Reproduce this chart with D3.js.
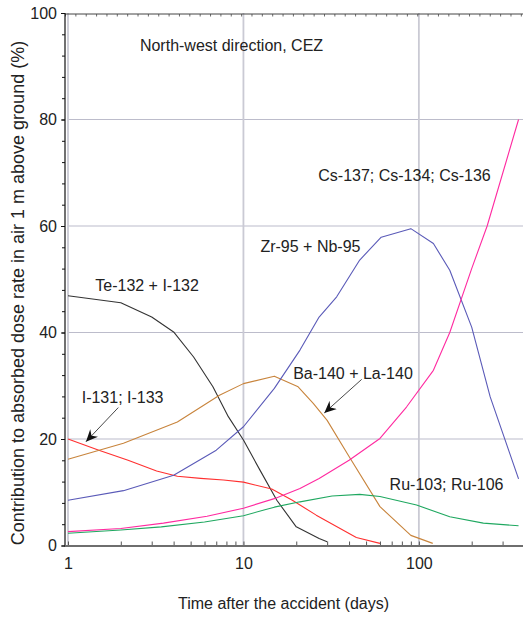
<!DOCTYPE html>
<html>
<head>
<meta charset="utf-8">
<script src="https://cdn.jsdelivr.net/npm/d3@7"></script>
<style>
  html, body { margin: 0; padding: 0; background: #fff; }
  svg { display: block; }
  text { font-family: "Liberation Sans", Arial, Helvetica, sans-serif; fill: #222; }
</style>
</head>
<body>
<svg id="chart" width="523" height="617"></svg>
<script>
// ---- data ----
const teDays = [1, 2, 3, 4, 5.2, 6.7, 8.2, 10, 12.4, 15.5, 20, 27, 30];
const teVals = [46.9, 45.6, 42.9, 40.1, 35.4, 29.8, 24.2, 19.8, 14.2, 8.5, 3.5, 1.3, 0.7];

const iDays = [1, 1.5, 2.2, 3.2, 4.2, 5.7, 7.7, 10, 14.5, 19, 26, 44, 60];
const iVals = [20.0, 17.9, 16.0, 14.0, 13.0, 12.6, 12.3, 11.9, 10.6, 8.5, 5.7, 1.5, 0.4];

const baDays = [1, 2.07, 4.2, 7.3, 10, 15, 20.5, 25, 30, 40, 60, 90, 120];
const baVals = [16.2, 19.2, 23.2, 28.2, 30.4, 31.8, 29.8, 26.7, 23.5, 16.7, 7.3, 1.9, 0.4];

const zrDays = [1, 2.07, 4, 7, 10, 15, 21, 27, 34, 46, 61, 90, 121, 150, 200, 255, 370];
const zrVals = [8.5, 10.3, 13.2, 17.9, 22.3, 29.5, 36.7, 42.9, 46.7, 53.6, 57.9, 59.5, 56.7, 51.7, 41.0, 27.9, 12.5];

const csDays = [1, 2, 3.5, 6.2, 10, 15, 21, 27, 40, 60, 85, 121, 150, 200, 245, 370];
const csVals = [2.6, 3.2, 4.2, 5.5, 7.0, 8.8, 10.7, 12.6, 16.0, 20.1, 26.0, 32.9, 40.0, 52.0, 60.0, 80.0];

const ruDays = [1, 2, 3.4, 6, 10, 15, 21, 32, 46, 60, 97, 150, 233, 370];
const ruVals = [2.3, 2.9, 3.5, 4.4, 5.6, 7.2, 8.2, 9.3, 9.6, 9.2, 7.6, 5.4, 4.2, 3.7];

const seriesNames = ["Te-132 + I-132", "I-131; I-133", "Ba-140 + La-140", "Zr-95 + Nb-95", "Cs-137; Cs-134; Cs-136", "Ru-103; Ru-106"];
const seriesColors = ["#333333", "#ff3030", "#c8843c", "#5a5ab8", "#ff2aa0", "#1fa860"];

const xTickValues = [1, 10, 100];
const yTickValues = [0, 20, 40, 60, 80, 100];

// annotation label anchors (days, %)
const labelTexts = ["North-west direction, CEZ", "Cs-137; Cs-134; Cs-136", "Zr-95 + Nb-95", "Te-132 + I-132", "Ba-140 + La-140", "I-131; I-133", "Ru-103; Ru-106"];
const labelDays = [2.57, 26.7, 12.5, 1.43, 19.2, 1.197, 68.1];
const labelVals = [92.8, 68.4, 55.1, 47.8, 31.2, 26.8, 10.5];

// arrows: from (day, %) to (day, %)
const arrowFromDays = [1.935, 47.2];
const arrowFromVals = [25.9, 31.2];
const arrowToDays = [1.266, 28.9];
const arrowToVals = [19.5, 24.9];

// ---- drawing ----
const svg = d3.select("#chart");
const x = d3.scaleLog().domain([1, 400]).range([68, 524.5]);
const y = d3.scaleLinear().domain([0, 100]).range([545.5, 13]);

// grid
const grid = svg.append("g");
grid.selectAll("line.h").data([20, 40, 60, 80]).enter().append("line")
  .attr("x1", x(1)).attr("x2", 523)
  .attr("y1", d => y(d)).attr("y2", d => y(d))
  .attr("stroke", "#bcbccb").attr("stroke-width", 1.2);
grid.selectAll("line.v").data(xTickValues).enter().append("line")
  .attr("x1", d => x(d)).attr("x2", d => x(d))
  .attr("y1", y(100)).attr("y2", y(0))
  .attr("stroke", "#cacad4").attr("stroke-width", 1.8);

// top frame with evenly spaced small ticks
const xTop = d3.scaleLinear().domain([0, 44]).range([x(1) - 3, x(1) - 3 + 44 * 10.36]);
const topAxis = d3.axisTop(xTop).tickValues(d3.range(0, 45)).tickSize(-2.5).tickFormat("");
const gTop = svg.append("g").attr("transform", `translate(0,${y(100) + 1})`).call(topAxis);
gTop.select(".domain").remove();
gTop.selectAll(".tick line").attr("stroke", "#444").attr("stroke-width", 0.8);
svg.append("line").attr("x1", 65).attr("x2", 523).attr("y1", y(100) + 1).attr("y2", y(100) + 1)
  .attr("stroke", "#444").attr("stroke-width", 1);

// left axis
const yMinor = d3.range(0, 101, 4);
const leftAxisMinor = d3.axisLeft(y).tickValues(yMinor).tickSize(3).tickFormat("");
const gLm = svg.append("g").attr("transform", "translate(65,0)").call(leftAxisMinor);
gLm.select(".domain").remove();
gLm.selectAll(".tick line").attr("stroke", "#111");
const leftAxis = d3.axisLeft(y).tickValues(yTickValues).tickSize(4).tickPadding(4).tickFormat(d3.format("d"));
const gL = svg.append("g").attr("transform", "translate(65,0)").call(leftAxis);
gL.select(".domain").remove();
gL.selectAll(".tick line").attr("stroke", "#111");
gL.selectAll(".tick text").style("font-size", "16px").style("font-family", "'Liberation Sans', Arial, sans-serif").attr("fill", "#222");
svg.append("line").attr("x1", 65).attr("x2", 65).attr("y1", y(100)).attr("y2", y(0) + 1)
  .attr("stroke", "#111").attr("stroke-width", 1.2);

// bottom axis
const minorX = [];
[1, 10, 100].forEach(dec => { for (let k = 1; k <= 9; k++) { const v = dec * k; if (v <= 400) minorX.push(v); } });
const bottomMinor = d3.axisBottom(x).tickValues(minorX).tickSize(-4).tickFormat("");
const gBm = svg.append("g").attr("transform", `translate(0,${y(0)})`).call(bottomMinor);
gBm.select(".domain").remove();
gBm.selectAll(".tick line").attr("stroke", "#555").attr("stroke-width", 1);
const bottomAxis = d3.axisBottom(x).tickValues(xTickValues).tickSize(0).tickPadding(12).tickFormat(d3.format("d"));
const gB = svg.append("g").attr("transform", `translate(0,${y(0)})`).call(bottomAxis);
gB.select(".domain").remove();
gB.selectAll(".tick text").style("font-size", "16px").style("font-family", "'Liberation Sans', Arial, sans-serif").attr("fill", "#222");
svg.append("line").attr("x1", 65).attr("x2", 523).attr("y1", y(0) + 0.5).attr("y2", y(0) + 0.5)
  .attr("stroke", "#6e6e6e").attr("stroke-width", 2.2);

// series lines
const seriesDays = [teDays, iDays, baDays, zrDays, csDays, ruDays];
const seriesVals = [teVals, iVals, baVals, zrVals, csVals, ruVals];
const line = d3.line().x(d => x(d[0])).y(d => y(d[1]));
seriesDays.forEach((days, i) => {
  const pts = days.map((d, j) => [d, seriesVals[i][j]]);
  svg.append("path").datum(pts)
    .attr("d", line)
    .attr("fill", "none")
    .attr("stroke", seriesColors[i])
    .attr("stroke-width", 1.1)
    .attr("stroke-linejoin", "round");
});

// arrows
svg.append("defs").append("marker")
  .attr("id", "arrowhead")
  .attr("viewBox", "-12 -6 13 12")
  .attr("refX", 0).attr("refY", 0)
  .attr("markerWidth", 13).attr("markerHeight", 12)
  .attr("markerUnits", "userSpaceOnUse")
  .attr("orient", "auto")
  .append("path")
  .attr("d", "M0,0 L-12,-5.5 L-8,0 L-12,5.5 Z")
  .attr("fill", "#111");
arrowFromDays.forEach((d, i) => {
  svg.append("line")
    .attr("x1", x(d)).attr("y1", y(arrowFromVals[i]))
    .attr("x2", x(arrowToDays[i])).attr("y2", y(arrowToVals[i]))
    .attr("stroke", "#333").attr("stroke-width", 0.9)
    .attr("marker-end", "url(#arrowhead)");
});

// labels
labelTexts.forEach((t, i) => {
  svg.append("text")
    .attr("x", x(labelDays[i])).attr("y", y(labelVals[i]))
    .style("font-size", "16px")
    .text(t);
});

// axis titles
svg.append("text")
  .attr("x", (x(1) + 523) / 2 - 12).attr("y", 609)
  .attr("text-anchor", "middle")
  .style("font-size", "16px")
  .text("Time after the accident (days)");
svg.append("text")
  .attr("transform", "translate(23.5,293) rotate(-90)")
  .attr("text-anchor", "middle")
  .style("font-size", "18px")
  .text("Contribution to absorbed dose rate in air 1 m above ground (%)");
</script>
</body>
</html>
